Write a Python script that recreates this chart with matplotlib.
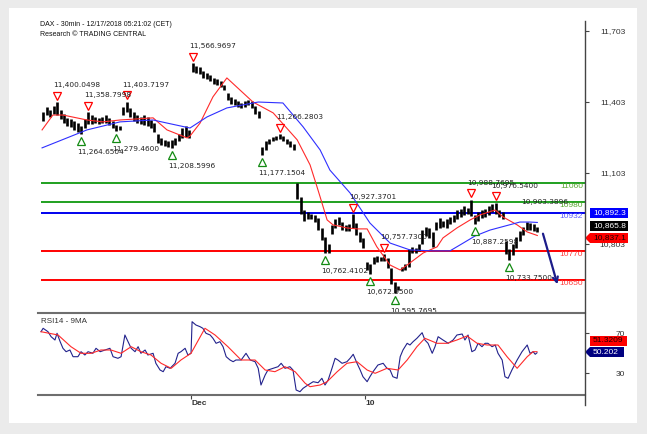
import matplotlib
matplotlib.use("Agg")
import matplotlib.pyplot as plt
from matplotlib.patches import Rectangle, Polygon
from matplotlib.transforms import offset_copy

plt.rcParams["font.family"] = ["Liberation Sans", "DejaVu Sans"]

# DAX 30min bars, index counted from the start of Nov 26 (10 bars per session)
bar_idx = list(range(7, 150))
bar_high = [11360, 11380, 11370,
            11385, 11400.0498, 11370, 11350, 11335, 11330, 11320, 11315, 11300, 11330,
            11358.7998, 11345, 11340, 11335, 11340, 11345, 11335, 11320, 11305, 11300,
            11380, 11403.7197, 11375, 11360, 11345, 11340, 11345, 11340, 11325, 11315,
            11265, 11250, 11240, 11235, 11240, 11250, 11265, 11290, 11300, 11285,
            11566.9697, 11555, 11550, 11535, 11525, 11515, 11505, 11500, 11490, 11475,
            11440, 11425, 11415, 11405, 11400, 11405, 11412, 11405, 11385, 11365,
            11210, 11235, 11245, 11255, 11260, 11266.2803, 11258, 11245, 11235, 11225,
            11060, 11000, 10945, 10935, 10930, 10925, 10910, 10870, 10830, 10800,
            10880, 10905, 10915, 10895, 10880, 10885, 10927.3701, 10890, 10850, 10825,
            10725, 10715, 10745, 10750, 10748, 10757.73, 10740, 10700, 10640, 10625,
            10705, 10715, 10780, 10790, 10785, 10800, 10860, 10875, 10870, 10850,
            10895, 10910, 10900, 10905, 10915, 10925, 10945, 10950, 10960, 10955,
            10988.7695, 10925, 10935, 10945, 10950, 10960, 10970, 10976.54, 10945, 10935,
            10815, 10780, 10800, 10830, 10855, 10875, 10895, 10890, 10885, 10875]
bar_low = [11320, 11345, 11340,
           11350, 11345, 11330, 11315, 11300, 11295, 11285, 11275, 11264.6504, 11290,
           11310, 11310, 11315, 11310, 11312, 11315, 11305, 11290, 11279.46, 11285,
           11345, 11360, 11340, 11320, 11315, 11310, 11305, 11300, 11290, 11275,
           11230, 11220, 11215, 11212, 11208.5996, 11220, 11235, 11250, 11255, 11250,
           11530, 11525, 11520, 11505, 11500, 11490, 11480, 11475, 11465, 11455,
           11410, 11395, 11390, 11380, 11378, 11382, 11390, 11375, 11350, 11335,
           11177.1504, 11200, 11225, 11235, 11240, 11245, 11235, 11225, 11210, 11200,
           10990, 10930, 10900, 10905, 10905, 10895, 10860, 10820, 10762.4102, 10765,
           10845, 10870, 10880, 10860, 10855, 10858, 10870, 10840, 10810, 10785,
           10690, 10672.95, 10715, 10725, 10728, 10730, 10700, 10630, 10595.7695, 10605,
           10685, 10690, 10705, 10765, 10765, 10770, 10800, 10835, 10825, 10790,
           10860, 10870, 10875, 10870, 10885, 10895, 10905, 10915, 10925, 10930,
           10920, 10887.2598, 10900, 10910, 10915, 10925, 10935, 10930, 10915, 10905,
           10760, 10733.75, 10755, 10785, 10815, 10840, 10860, 10860, 10855, 10850]
last_close = 10865.8

# moving averages (position in bars, value)
red_ma_t = [7.2, 10.3, 13.2, 20.1, 24.7, 29.6, 33.9, 39.1, 43.1, 48.9,
            49.7, 52.6, 56.3, 60.3, 67.8, 73.6, 80.5, 84.2, 86.2, 87.1,
            89.1, 90.8, 94.8, 97.7, 100.6, 103.4, 107.2, 110.1, 112.9, 116.7,
            120.7, 122.4, 126.4, 130.2, 133.0, 137.4, 139.7, 143.7, 146.6, 149.5]
red_ma = [11284, 11347, 11347, 11326, 11318, 11326, 11330, 11335, 11284, 11250,
          11258, 11313, 11424, 11504, 11402, 11356, 11242, 11136, 11043, 11000,
          10903, 10882, 10869, 10865, 10865, 10789, 10712, 10691, 10721, 10763,
          10789, 10827, 10869, 10903, 10924, 10945, 10915, 10882, 10852, 10837.1]
blue_ma_t = [7.2, 20.1, 29.6, 39.1, 43.1, 49.7, 54.6, 60.3, 69.3, 76.4,
             82.2, 87.1, 89.9, 95.7, 101.4, 107.2, 112.9, 119.5, 124.4, 128.2,
             131.6, 135.9, 140.2, 144.5, 147.4, 149.5]
blue_ma = [11208, 11284, 11318, 11326, 11313, 11292, 11339, 11377, 11402, 11398,
           11297, 11199, 11114, 11017, 10890, 10805, 10776, 10772, 10772, 10805,
           10835, 10860, 10877, 10894, 10894, 10892.3]

# swing highs / lows that carry a label
hi_idx = [11, 20, 31, 50, 75, 96, 105, 130, 137]
hi_val = [11400.0498, 11358.7998, 11403.7197, 11566.9697, 11266.2803,
          10927.3701, 10757.7300, 10988.7695, 10976.5400]
lo_idx = [18, 28, 44, 70, 88, 101, 108, 131, 141]
lo_val = [11264.6504, 11279.4600, 11208.5996, 11177.1504, 10762.4102,
          10672.9500, 10595.7695, 10887.2598, 10733.7500]

# support / resistance levels
levels = [11060, 10980, 10932, 10770, 10650]
level_colors = ["#1fa01f", "#1fa01f", "#0000ee", "#ff0000", "#ff0000"]
label_colors = ["#5aa832", "#5aa832", "#5c5cff", "#ff4040", "#ff4040"]
note_val = 10903.3896

# expected move
arrow_t = [150.9, 155.5]
arrow_p = [10856, 10619]

# RSI 14 and its 9-period average
rsi_t = [6.9, 7.5, 8.9, 9.8, 10.9, 11.5, 12.4, 13.2, 14.1, 15.2,
         16.1, 17.5, 18.4, 19.5, 20.4, 21.8, 22.7, 23.9, 25.3, 26.7,
         27.6, 29.0, 29.9, 31.0, 31.9, 32.8, 33.9, 34.8, 35.6, 36.8,
         37.6, 39.1, 39.9, 41.1, 42.0, 42.8, 44.0, 45.4, 46.3, 47.1,
         48.3, 49.1, 50.0, 50.3, 51.4, 52.6, 53.4, 54.3, 55.5, 56.3,
         57.2, 58.3, 59.2, 60.1, 61.2, 62.1, 62.9, 64.4, 65.8, 67.0,
         68.4, 69.3, 70.1, 71.3, 72.1, 73.6, 75.0, 75.9, 77.0, 78.4,
         79.3, 80.2, 81.3, 82.2, 83.6, 85.1, 86.5, 87.6, 88.5, 89.4,
         90.5, 91.4, 92.2, 93.4, 94.8, 95.7, 96.6, 97.7, 98.6, 99.4,
         100.6, 101.4, 102.3, 103.7, 105.2, 106.3, 107.2, 108.0, 109.2, 110.1,
         110.9, 112.1, 112.9, 113.8, 114.9, 116.4, 117.2, 118.1, 119.3, 120.1,
         121.0, 122.4, 123.9, 125.3, 126.4, 127.9, 128.7, 129.6, 130.7, 131.6,
         132.5, 133.6, 134.5, 135.3, 136.5, 137.4, 138.2, 139.4, 140.2, 141.1,
         142.2, 143.7, 145.1, 146.6, 147.4, 148.3, 148.9, 149.4]
rsi = [71.3, 74.7, 71.3, 66.3, 63, 69.7, 61.3, 54.7, 51.3, 53,
       46.3, 46.3, 51.3, 48, 51.3, 49.7, 54.7, 51.3, 53, 54.7,
       46.3, 44.7, 46.3, 68, 61.3, 54.7, 51.3, 56.3, 49.7, 53,
       48, 49.7, 39.7, 33, 31.3, 36.3, 34.7, 39.7, 49.7, 51.3,
       54.7, 48, 49.7, 81.3, 78, 76.3, 74.7, 69.7, 68, 64.7,
       59.7, 61.3, 56.3, 46.3, 43, 41.3, 43, 43, 49.7, 43,
       41.3, 34.7, 18, 28, 33, 34.7, 36.3, 39.7, 34.7, 36.3,
       33, 13, 11.3, 14.7, 18, 21.3, 20.3, 24.7, 18, 23,
       34.7, 44.7, 43, 39.7, 41.3, 44.7, 48.7, 39.7, 33, 26.3,
       21.3, 26.3, 31.3, 38, 39.7, 34.7, 33, 26.3, 24.7, 46.3,
       53, 59.7, 58, 61.3, 64.7, 70.3, 63, 59.7, 49.7, 56.3,
       66.3, 63, 59.7, 63, 68, 69, 63, 68, 51.3, 53,
       59.7, 56.3, 59.7, 59.7, 56.3, 58, 49.7, 43, 26.3, 24.7,
       33, 43, 51.3, 58, 49.7, 51.3, 48.7, 50.202]
rsi_ma_t = [6.9, 11.8, 15.5, 18.4, 21.3, 24.1, 27.0, 29.9, 32.8, 35.6,
            38.5, 41.4, 44.3, 47.1, 50.0, 54.0, 56.9, 60.6, 64.4, 68.4,
            71.3, 74.1, 77.0, 79.9, 82.8, 84.2, 87.1, 89.1, 92.0, 94.8,
            97.7, 100.6, 102.9, 106.3, 109.5, 112.1, 114.9, 117.2, 120.7, 123.6,
            126.4, 129.3, 132.2, 135.1, 138.2, 140.8, 143.7, 146.6, 148.3, 149.4]
rsi_ma = [71.3, 68, 56.3, 49.7, 49.7, 53, 53, 49.7, 56.3, 51.3,
          48, 39.7, 34.7, 43, 49.7, 74.7, 68, 56.3, 43, 43,
          33, 31.3, 36.3, 31.3, 19.7, 16.3, 18, 21.3, 31.3, 39.7,
          41.3, 33, 29.7, 34.7, 33, 43, 56.3, 64.7, 59.7, 59.7,
          63, 67, 59.7, 58, 58, 46.3, 34.7, 46.3, 51.3, 51.3209]

date_ticks = [50, 100]
date_labels = ["Dec", "10"]
price_ticks = [11703, 11403, 11103, 10803]

W, H = 647, 434


def fbox(x0, y0, x1, y1):
    return [x0 / W, 1 - y1 / H, (x1 - x0) / W, (y1 - y0) / H]


fig = plt.figure(figsize=(6.47, 4.34), dpi=100)
fig.patch.set_facecolor("#ebebeb")

# white card behind everything
bg = fig.add_axes([0, 0, 1, 1], zorder=0)
bg.set_xlim(0, W)
bg.set_ylim(H, 0)
bg.axis("off")
bg.add_patch(Rectangle((9, 8), 628, 415, fc="white", ec="none"))
bg.text(40, 25, "DAX - 30min - 12/17/2018 05:21:02 (CET)", fontsize=5, va="center", color="#111")
bg.text(40, 35, "Research \u00a9 TRADING CENTRAL", fontsize=5, va="center", color="#111")

# ---- price panel ----
ax = fig.add_axes(fbox(38, 21, 585, 313), zorder=1)
ax.set_facecolor("none")
ax.set_xlim(6.03, 163.2)
ax.set_ylim(10509, 11745)
for s in ax.spines.values():
    s.set_visible(False)
ax.set_xticks([])
ax.yaxis.tick_right()
ax.set_yticks(price_ticks)
ax.set_yticklabels([f"{v:,}" for v in price_ticks])
ax.tick_params(axis="y", length=3, width=0.8, color="#444", labelsize=6,
               labelcolor="#333", pad=26)
for lab in ax.get_yticklabels():
    lab.set_ha("right")

for lv, c, lc in zip(levels, level_colors, label_colors):
    ax.hlines(lv, 7, 163.2, colors=c, lw=1.4, zorder=2)
    ax.text(162.6, lv, str(lv), color=lc, fontsize=6, ha="right", va="top", zorder=3)
ax.text(144.9, 10980, f"{note_val:,.4f}", fontsize=5.3, family="DejaVu Sans",
        color="#222", va="center", zorder=4)

bar_t = [k + 0.5 for k in bar_idx]
ax.vlines(bar_t, bar_low, bar_high, colors="black", lw=1.9, zorder=4)
ax.plot(red_ma_t, red_ma, color="#ff2a2a", lw=0.8, zorder=5)
ax.plot(blue_ma_t, blue_ma, color="#2f2fff", lw=0.8, zorder=5)

up = offset_copy(ax.transData, fig=fig, y=6.5, units="dots")
down = offset_copy(ax.transData, fig=fig, y=-7, units="dots")
hi_t = [k + 0.5 for k in hi_idx]
lo_t = [k + 0.5 for k in lo_idx]
ax.plot(hi_t, hi_val, "v", ms=5.3, mfc="white", mec="#ff0000", mew=0.9, transform=up, zorder=6)
ax.plot(lo_t, lo_val, "^", ms=5.3, mfc="white", mec="#138a13", mew=0.9, transform=down, zorder=6)
for t, v in zip(hi_t, hi_val):
    a = ax.annotate(f"{v:,.4f}", xy=(t, v), xytext=(-4, 17), textcoords="offset pixels",
                    fontsize=5.3, family="DejaVu Sans", color="#222", va="center", zorder=7)
    a.set_clip_on(True)
for t, v in zip(lo_t, lo_val):
    a = ax.annotate(f"{v:,.4f}", xy=(t, v), xytext=(-4, -18), textcoords="offset pixels",
                    fontsize=5.3, family="DejaVu Sans", color="#222", va="center", zorder=7)
    a.set_clip_on(True)

ax.annotate("", xy=(arrow_t[1], arrow_p[1]), xytext=(arrow_t[0], arrow_p[0]),
            arrowprops=dict(arrowstyle="->", color="#1c1c8a", lw=1.6, mutation_scale=9),
            zorder=8)

# ---- RSI panel ----
rax = fig.add_axes(fbox(38, 313, 585, 395), zorder=1)
rax.set_facecolor("none")
rax.set_xlim(6.03, 163.2)
rax.set_ylim(8, 90)
for side in ["left", "right"]:
    rax.spines[side].set_visible(False)
for side in ["top", "bottom"]:
    rax.spines[side].set_color("#6e6e6e")
    rax.spines[side].set_linewidth(1.5)
rax.plot(rsi_t, rsi, color="#22228c", lw=0.8)
rax.plot(rsi_ma_t, rsi_ma, color="#ff2a2a", lw=0.8)
rax.yaxis.tick_right()
rax.set_yticks([30, 70])
rax.tick_params(axis="y", length=3, width=0.8, color="#444", labelsize=6,
                labelcolor="#333", pad=26)
for lab in rax.get_yticklabels():
    lab.set_ha("right")
rax.set_xticks(date_ticks)
rax.set_xticklabels(date_labels, fontsize=6, fontweight="bold", color="#333")
for lab in rax.get_xticklabels():
    lab.set_ha("left")
rax.tick_params(axis="x", length=3, width=0.8, color="#444", pad=0.5)
rax.text(0.005, 0.9, "RSI14 - 9MA", transform=rax.transAxes, fontsize=5.8, color="#333", va="center")

# ---- overlay: axis line and last-value boxes ----
ov = fig.add_axes([0, 0, 1, 1], zorder=3)
ov.set_xlim(0, W)
ov.set_ylim(H, 0)
ov.axis("off")
ov.plot([585, 585], [21, 405], color="#444", lw=1)


def value_box(y0, text, fc, tc, pointer=False, x1=628):
    if pointer:
        pts = [(585, y0 + 5), (590, y0), (x1, y0), (x1, y0 + 10), (590, y0 + 10)]
    else:
        pts = [(590, y0), (x1, y0), (x1, y0 + 10), (590, y0 + 10)]
    p = Polygon(pts, closed=True, fc=fc, ec="none")
    ov.add_patch(p)
    t = ov.text(593, y0 + 5, text, color=tc, fontsize=6, va="center")
    t.set_clip_path(p)


value_box(208, f"{blue_ma[-1]:,.1f}", "#0000ff", "white")
value_box(221, f"{last_close:,.1f}", "black", "white")
value_box(233, f"{red_ma[-1]:,.1f}", "#ff0000", "#200000", pointer=True)
value_box(336, f"{rsi_ma[-1]:.4f}", "#ff0000", "#200000", x1=627)
value_box(347, f"{rsi[-1]:.3f}", "#000080", "white", pointer=True, x1=624)

fig.savefig("out.png", dpi=100, facecolor=fig.get_facecolor())
